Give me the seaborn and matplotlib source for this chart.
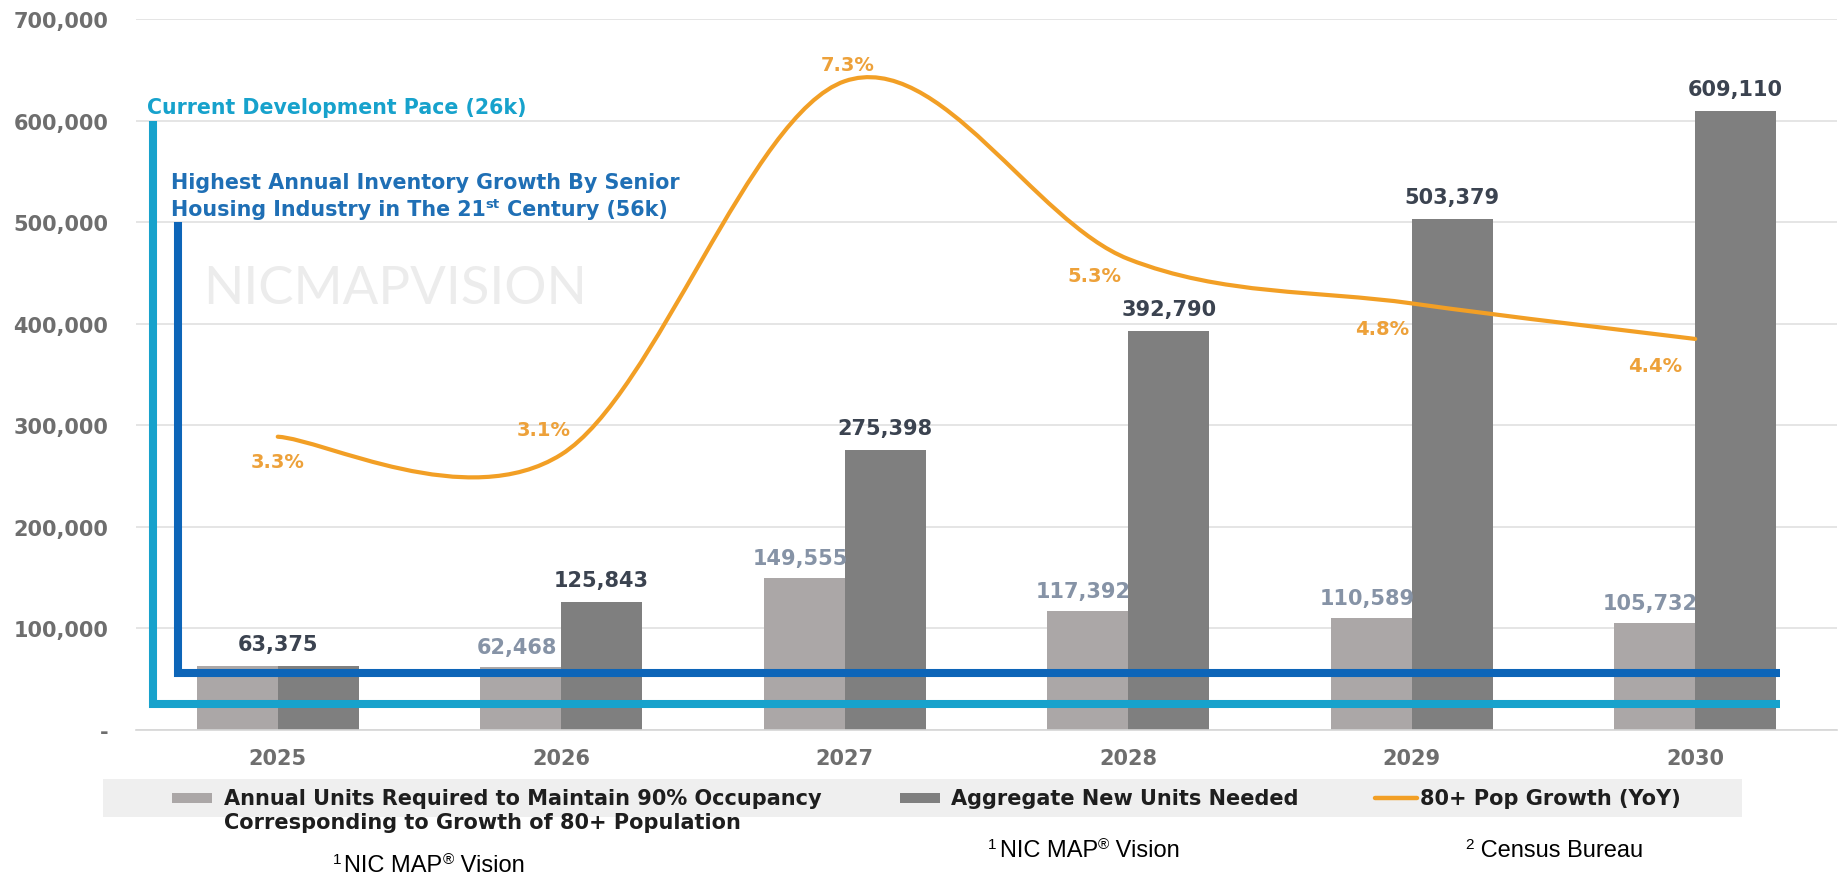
import numpy as np
import pandas as pd
import matplotlib
matplotlib.use("Agg")
import matplotlib.pyplot as plt
import seaborn as sns
from matplotlib.path import Path
from matplotlib.patches import PathPatch, Rectangle
from matplotlib.lines import Line2D
from matplotlib.ticker import FuncFormatter

# ---------------- data ----------------
years = ["2025", "2026", "2027", "2028", "2029", "2030"]
annual_units = [63375, 62468, 149555, 117392, 110589, 105732]
aggregate_units = [63375, 125843, 275398, 392790, 503379, 609110]
pop_growth_pct = [3.3, 3.1, 7.3, 5.3, 4.8, 4.4]
current_pace = 26000
peak_growth = 56000
y_ticks = [0, 100000, 200000, 300000, 400000, 500000, 600000, 700000]

annual_name = "Annual Units Required to Maintain 90% Occupancy"
annual_name_2 = "Corresponding to Growth of 80+ Population"
aggregate_name = "Aggregate New Units Needed"
growth_name = "80+ Pop Growth (YoY)"
pace_label = "Current Development Pace (26k)"
peak_label_1 = "Highest Annual Inventory Growth By Senior"
peak_label_2 = ["Housing Industry in The 21", "st", " Century (56k)"]
watermark = "NICMAPVISION"

# ---------------- style ----------------
LIGHT = "#aba7a7"
DARK = "#7f7f7f"
ORANGE = "#f29f25"
ORANGE_TXT = "#eda13a"
CYAN = "#17a2cc"
BLUE = "#0d65b8"
BLUE_TXT = "#1f6fb5"
LIGHT_LBL = "#8693a6"
DARK_LBL = "#3b4350"
AXIS_TXT = "#6e6e6e"
GRID = "#e0e0e0"

sns.set_theme(style="white")
plt.rcParams["font.family"] = ["DejaVu Sans"]

W, H = 1843, 878
fig = plt.figure(figsize=(W / 100, H / 100), dpi=100)
fig.patch.set_facecolor("white")
ax = fig.add_axes([136 / W, 1 - 731 / H, (1837 - 136) / W, (731 - 20) / H])

df = pd.DataFrame({
    "year": years * 2,
    "series": [annual_name] * len(years) + [aggregate_name] * len(years),
    "units": annual_units + aggregate_units,
})
sns.barplot(data=df, x="year", y="units", hue="series",
            palette=[LIGHT, DARK], width=0.57, saturation=1,
            linewidth=0, ax=ax, legend=False, zorder=2)

ax.set_xlim(-0.5, 5.5)
ax.set_ylim(0, 700000)
ax.set_yticks(y_ticks)
ax.yaxis.set_major_formatter(FuncFormatter(lambda v, p: "-" if v == 0 else f"{int(v):,}"))
ax.set_xlabel("")
ax.set_ylabel("")
for s in ["left", "top", "right"]:
    ax.spines[s].set_visible(False)
ax.spines["bottom"].set_color("#d6d6d6")
ax.spines["bottom"].set_linewidth(1.2)
ax.yaxis.grid(True, color=GRID, lw=1.2)
ax.set_axisbelow(True)
ax.set_xticks(np.arange(-0.5, 6.0, 1.0), minor=True)
ax.tick_params(axis="x", which="major", length=0, pad=13, labelsize=15,
               labelcolor=AXIS_TXT)
ax.tick_params(axis="x", which="minor", length=7, width=1.2, color="#d6d6d6",
               direction="out")
ax.tick_params(axis="y", length=0, pad=20, labelsize=15, labelcolor=AXIS_TXT)
for lbl in ax.get_xticklabels() + ax.get_yticklabels():
    lbl.set_fontweight("bold")

# value labels above the bars
light_bars, dark_bars = ax.containers[0], ax.containers[1]
for i, (a, g) in enumerate(zip(annual_units, aggregate_units)):
    pd_ = dark_bars[i]
    pl_ = light_bars[i]
    if a == g:
        ax.annotate(f"{g:,}", xy=(i, g), xytext=(0, 11.5), textcoords="offset points",
                    ha="center", va="baseline", fontsize=15, fontweight="bold",
                    color=DARK_LBL, zorder=6)
        continue
    ax.annotate(f"{a:,}", xy=(pl_.get_x() + pl_.get_width() / 2, a), xytext=(-3, 10),
                textcoords="offset points", ha="center", va="baseline",
                fontsize=15, fontweight="bold", color=LIGHT_LBL, zorder=6)
    ax.annotate(f"{g:,}", xy=(pd_.get_x() + pd_.get_width() / 2, g), xytext=(0, 11.5),
                textcoords="offset points", ha="center", va="baseline",
                fontsize=15, fontweight="bold", color=DARK_LBL, zorder=6)

# development pace reference lines
ax.plot([-0.44, -0.44, 5.30], [600000, current_pace, current_pace], color=CYAN,
        lw=5.8, solid_joinstyle="miter", solid_capstyle="butt", zorder=4)
ax.plot([-0.352, -0.352, 5.30], [500000, peak_growth, peak_growth], color=BLUE,
        lw=5.8, solid_joinstyle="miter", solid_capstyle="butt", zorder=4)

# population growth on a secondary axis, drawn as a smoothed curve
ax2 = ax.twinx()
ax2.set_ylim(0, 8)
ax2.axis("off")
pts = np.column_stack([np.arange(len(pop_growth_pct), dtype=float), pop_growth_pct])
ext = np.vstack([pts[0], pts, pts[-1]])
verts = [tuple(pts[0])]
codes = [Path.MOVETO]
for k in range(len(pts) - 1):
    p0, p1, p2, p3 = ext[k], ext[k + 1], ext[k + 2], ext[k + 3]
    verts += [tuple(p1 + (p2 - p0) / 6), tuple(p2 - (p3 - p1) / 6), tuple(p2)]
    codes += [Path.CURVE4] * 3
ax2.add_patch(PathPatch(Path(verts, codes), facecolor="none", edgecolor=ORANGE,
                        lw=3.0, capstyle="round", zorder=5))
pct_offsets = [(0, -18), (-13, 18), (2, 12), (-24, -12), (-21, -18), (-29, -19)]
for i, (v, off) in enumerate(zip(pop_growth_pct, pct_offsets)):
    ax2.annotate(f"{v}%", xy=(i, v), xytext=off, textcoords="offset points",
                 ha="center", va="center", fontsize=14, fontweight="bold",
                 color=ORANGE_TXT, zorder=6)

# watermark
ax.text(203 / W, 1 - 289 / H, watermark, transform=fig.transFigure, fontsize=38,
        family="Lato", fontweight="normal", color="#ececec", va="center", ha="left",
        zorder=0.5)

renderer = fig.canvas.get_renderer()


def runs_text(x_px, base_px, runs, **kw):
    """Draw text pieces left to right from a pixel start on a shared baseline."""
    x = x_px
    for s, size, rise, gap in runs:
        t = fig.text(x / W, (H - base_px + rise) / H, s, fontsize=size,
                     ha="left", va="baseline", **kw)
        x += t.get_window_extent(renderer).width + gap


# reference line captions
fig.text(147 / W, 1 - 108 / H, pace_label, fontsize=14.8, fontweight="bold",
         color=CYAN, va="center", ha="left")
fig.text(171 / W, 1 - 183 / H, peak_label_1, fontsize=14.9, fontweight="bold",
         color=BLUE_TXT, va="center", ha="left")
runs_text(171, 216, [(peak_label_2[0], 14.9, 0, 0), (peak_label_2[1], 9.5, 8, 0),
                     (peak_label_2[2], 14.9, 0, 0)], fontweight="bold", color=BLUE_TXT)

# legend band
fig.add_artist(Rectangle((103 / W, 1 - 818 / H), (1742 - 103) / W, 38 / H,
                         transform=fig.transFigure, facecolor="#efefef",
                         edgecolor="none", zorder=0))
fig.add_artist(Rectangle((172 / W, 1 - 804 / H), 40 / W, 10 / H,
                         transform=fig.transFigure, facecolor=LIGHT, edgecolor="none"))
fig.add_artist(Rectangle((900 / W, 1 - 804 / H), 40 / W, 10 / H,
                         transform=fig.transFigure, facecolor=DARK, edgecolor="none"))
fig.add_artist(Line2D([1375 / W, 1417 / W], [1 - 799 / H] * 2, transform=fig.transFigure,
                      color=ORANGE, lw=3.2))
leg_kw = dict(fontsize=15, fontweight="bold", color="#1e1e1e", va="center", ha="left")
fig.text(224 / W, 1 - 799 / H, annual_name, **leg_kw)
fig.text(224 / W, 1 - 823 / H, annual_name_2, **leg_kw)
fig.text(951 / W, 1 - 799 / H, aggregate_name, **leg_kw)
fig.text(1420 / W, 1 - 799 / H, growth_name, **leg_kw)

# source notes
note_kw = dict(family="Liberation Sans", color="black")
runs_text(333, 872, [("1", 11, 8, 3), ("NIC MAP", 17, 0, 0), ("®", 11, 8, 0),
                     (" Vision", 17, 0, 0)], **note_kw)
runs_text(988, 857, [("1", 11, 8, 3), ("NIC MAP", 17, 0, 0), ("®", 11, 8, 0),
                     (" Vision", 17, 0, 0)], **note_kw)
runs_text(1465, 857, [("2", 11, 8, 0), (" Census Bureau", 17, 0, 0)], **note_kw)

fig.savefig("out.png", dpi=100, facecolor="white")
